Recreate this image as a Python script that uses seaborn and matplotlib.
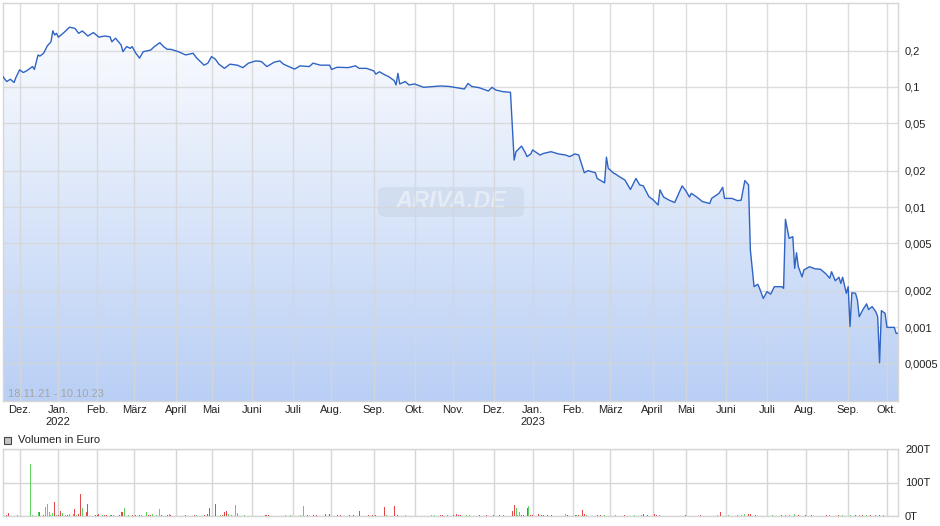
import numpy as np
import pandas as pd
import matplotlib
matplotlib.use("Agg")
import matplotlib.pyplot as plt
import seaborn as sns
from matplotlib.colors import LinearSegmentedColormap
from matplotlib.patches import FancyBboxPatch, Rectangle
from matplotlib.ticker import FixedLocator, FixedFormatter, NullLocator

# --- data --------------------------------------------------------------
holidays = ["2021-12-24", "2021-12-31", "2022-04-15", "2022-04-18",
            "2022-12-26", "2023-04-07", "2023-04-10", "2023-05-01"]

price_dates = [
    "2021-11-18", "2021-11-22", "2021-11-24", "2021-11-26", "2021-11-29",
    "2021-12-01", "2021-12-03", "2021-12-07", "2021-12-10", "2021-12-13",
    "2021-12-15", "2021-12-16", "2021-12-20", "2021-12-22", "2021-12-27",
    "2021-12-28", "2021-12-29", "2021-12-30", "2022-01-03", "2022-01-06",
    "2022-01-11", "2022-01-14", "2022-01-18", "2022-01-20", "2022-01-25",
    "2022-01-28", "2022-02-02", "2022-02-07", "2022-02-10", "2022-02-11",
    "2022-02-15", "2022-02-18", "2022-02-21", "2022-02-23", "2022-02-25",
    "2022-02-28", "2022-03-02", "2022-03-04", "2022-03-08", "2022-03-14",
    "2022-03-16", "2022-03-21", "2022-03-23", "2022-03-25", "2022-03-29",
    "2022-04-04", "2022-04-08", "2022-04-14", "2022-04-20", "2022-04-26",
    "2022-04-28", "2022-05-02", "2022-05-04", "2022-05-06", "2022-05-11",
    "2022-05-16", "2022-05-20", "2022-05-25", "2022-05-30", "2022-06-03",
    "2022-06-08", "2022-06-13", "2022-06-17", "2022-06-22", "2022-06-24",
    "2022-06-28", "2022-07-04", "2022-07-07", "2022-07-14", "2022-07-18",
    "2022-07-22", "2022-07-29", "2022-08-01", "2022-08-04", "2022-08-12",
    "2022-08-18", "2022-08-22", "2022-08-26", "2022-09-01", "2022-09-02",
    "2022-09-06", "2022-09-09", "2022-09-13", "2022-09-16", "2022-09-19",
    "2022-09-20", "2022-09-21", "2022-09-26", "2022-09-28", "2022-10-03",
    "2022-10-10", "2022-10-21", "2022-10-28", "2022-11-09", "2022-11-11",
    "2022-11-15", "2022-11-21", "2022-11-28", "2022-11-30", "2022-12-02",
    "2022-12-08", "2022-12-14", "2022-12-16", "2022-12-19", "2022-12-22",
    "2022-12-27", "2022-12-28", "2022-12-30", "2023-01-02", "2023-01-06",
    "2023-01-10", "2023-01-16", "2023-01-20", "2023-01-26", "2023-01-30",
    "2023-02-02", "2023-02-06", "2023-02-09", "2023-02-13", "2023-02-17",
    "2023-02-20", "2023-02-24", "2023-02-27", "2023-02-28", "2023-03-03",
    "2023-03-06", "2023-03-08", "2023-03-13", "2023-03-16", "2023-03-21",
    "2023-03-23", "2023-03-27", "2023-03-30", "2023-04-03", "2023-04-06",
    "2023-04-11", "2023-04-13", "2023-04-18", "2023-04-21", "2023-04-27",
    "2023-05-02", "2023-05-04", "2023-05-05", "2023-05-10", "2023-05-15",
    "2023-05-19", "2023-05-22", "2023-05-26", "2023-05-30", "2023-05-31",
    "2023-06-06", "2023-06-09", "2023-06-13", "2023-06-15", "2023-06-19",
    "2023-06-20", "2023-06-22", "2023-06-26", "2023-06-27", "2023-06-29",
    "2023-07-03", "2023-07-05", "2023-07-07", "2023-07-13", "2023-07-14",
    "2023-07-17", "2023-07-19", "2023-07-21", "2023-07-24", "2023-07-25",
    "2023-07-26", "2023-07-28", "2023-07-31", "2023-08-03", "2023-08-08",
    "2023-08-11", "2023-08-16", "2023-08-18", "2023-08-21", "2023-08-23",
    "2023-08-25", "2023-08-28", "2023-08-29", "2023-08-31", "2023-09-01",
    "2023-09-04", "2023-09-05", "2023-09-07", "2023-09-08", "2023-09-11",
    "2023-09-13", "2023-09-15", "2023-09-18", "2023-09-20", "2023-09-22",
    "2023-09-25", "2023-09-26", "2023-09-27", "2023-09-29", "2023-10-02",
    "2023-10-06", "2023-10-09", "2023-10-10",
]
price_values = [
    0.122, 0.111, 0.116, 0.109, 0.120,
    0.139, 0.132, 0.137, 0.148, 0.140,
    0.185, 0.181, 0.191, 0.220, 0.238,
    0.294, 0.271, 0.280, 0.260, 0.284,
    0.315, 0.308, 0.280, 0.293, 0.266,
    0.284, 0.260, 0.266, 0.262, 0.238,
    0.255, 0.224, 0.197, 0.217, 0.210,
    0.217, 0.191, 0.174, 0.197, 0.203,
    0.217, 0.234, 0.217, 0.206, 0.206,
    0.197, 0.185, 0.191, 0.174, 0.152,
    0.158, 0.179, 0.171, 0.155, 0.143,
    0.155, 0.152, 0.145, 0.158, 0.165,
    0.163, 0.148, 0.161, 0.165, 0.155,
    0.150, 0.141, 0.150, 0.148, 0.158,
    0.152, 0.152, 0.140, 0.146, 0.145,
    0.150, 0.143, 0.143, 0.136, 0.128,
    0.134, 0.126, 0.122, 0.113, 0.104,
    0.130, 0.106, 0.111, 0.104, 0.106,
    0.0994, 0.102, 0.101, 0.0962, 0.107,
    0.101, 0.0987, 0.0926, 0.0994, 0.0944,
    0.0914, 0.0903, 0.0246, 0.0289, 0.0322,
    0.0284, 0.0263, 0.0277, 0.0299, 0.0271,
    0.0280, 0.0289, 0.0277, 0.0271, 0.0263,
    0.0277, 0.0271, 0.0193, 0.0201, 0.0193,
    0.0173, 0.0159, 0.0260, 0.0210, 0.0191,
    0.0188, 0.0179, 0.0168, 0.0140, 0.0173,
    0.0153, 0.0150, 0.0122, 0.0116, 0.0104,
    0.0139, 0.0121, 0.0114, 0.0109, 0.0150,
    0.0137, 0.0121, 0.0130, 0.0121, 0.0111,
    0.0107, 0.0118, 0.0130, 0.0146, 0.0118,
    0.0118, 0.0113, 0.0114, 0.0166, 0.0153,
    0.00438, 0.00217, 0.00227, 0.00210, 0.00173,
    0.00197, 0.00188, 0.00217, 0.00217, 0.00210,
    0.0079, 0.00548, 0.00566, 0.00308, 0.00416,
    0.00318, 0.00262, 0.00299, 0.00318, 0.00306,
    0.00303, 0.00277, 0.00255, 0.00289, 0.00243,
    0.00260, 0.00231, 0.00260, 0.00191, 0.00217,
    0.00101, 0.00193, 0.00191, 0.00168, 0.00122,
    0.00140, 0.00156, 0.00140, 0.00148, 0.00134,
    0.00122, 0.000504, 0.00137, 0.00130, 0.000994,
    0.000994, 0.000886, 0.000886,
]

# volume in thousand euro, 1 = green (up), 0 = red (down)
vol_dates = [
    "2021-11-22", "2021-11-23", "2021-11-29", "2021-11-30", "2021-12-07",
    "2021-12-09", "2021-12-10", "2021-12-15", "2021-12-16", "2021-12-20",
    "2021-12-21", "2021-12-22", "2021-12-23", "2021-12-27", "2021-12-28",
    "2021-12-29", "2021-12-30", "2022-01-03", "2022-01-04", "2022-01-05",
    "2022-01-07", "2022-01-10", "2022-01-11", "2022-01-13", "2022-01-14",
    "2022-01-17", "2022-01-18", "2022-01-19", "2022-01-20", "2022-01-24",
    "2022-01-25", "2022-01-31", "2022-02-01", "2022-02-02", "2022-02-04",
    "2022-02-07", "2022-02-08", "2022-02-10", "2022-02-11", "2022-02-14",
    "2022-02-17", "2022-02-18", "2022-02-21", "2022-02-22", "2022-02-24",
    "2022-02-28", "2022-03-02", "2022-03-04", "2022-03-07", "2022-03-10",
    "2022-03-11", "2022-03-14", "2022-03-15", "2022-03-17", "2022-03-21",
    "2022-03-22", "2022-03-25", "2022-03-28", "2022-03-29", "2022-04-08",
    "2022-04-19", "2022-04-20", "2022-04-26", "2022-04-28", "2022-04-29",
    "2022-05-04", "2022-05-09", "2022-05-10", "2022-05-11", "2022-05-12",
    "2022-05-13", "2022-05-17", "2022-05-19", "2022-05-20", "2022-05-26",
    "2022-06-10", "2022-06-13", "2022-06-14", "2022-06-27", "2022-06-30",
    "2022-07-07", "2022-07-11", "2022-07-13", "2022-07-18", "2022-07-20",
    "2022-07-27", "2022-07-29", "2022-08-04", "2022-08-08", "2022-08-15",
    "2022-08-17", "2022-08-22", "2022-08-29", "2022-08-31", "2022-09-02",
    "2022-09-09", "2022-09-12", "2022-09-16", "2022-09-20", "2022-09-26",
    "2022-10-14", "2022-10-18", "2022-10-21", "2022-10-24", "2022-10-27",
    "2022-11-01", "2022-11-03", "2022-11-04", "2022-11-07", "2022-11-10",
    "2022-11-14", "2022-11-21", "2022-11-25", "2022-12-01", "2022-12-06",
    "2022-12-08", "2022-12-15", "2022-12-16", "2022-12-19", "2022-12-20",
    "2022-12-21", "2022-12-22", "2022-12-23", "2022-12-28", "2022-12-29",
    "2022-12-30", "2023-01-02", "2023-01-05", "2023-01-09", "2023-01-10",
    "2023-01-12", "2023-01-16", "2023-01-26", "2023-01-27", "2023-02-02",
    "2023-02-03", "2023-02-06", "2023-02-08", "2023-02-09", "2023-02-10",
    "2023-02-20", "2023-02-22", "2023-02-24", "2023-03-06", "2023-03-13",
    "2023-03-20", "2023-03-24", "2023-03-27", "2023-03-29", "2023-04-04",
    "2023-04-05", "2023-04-11", "2023-05-02", "2023-05-12", "2023-05-25",
    "2023-05-29", "2023-06-02", "2023-06-09", "2023-06-13", "2023-06-15",
    "2023-06-19", "2023-06-20", "2023-06-23", "2023-07-06", "2023-07-13",
    "2023-07-17", "2023-07-19", "2023-07-24", "2023-07-26", "2023-08-01",
    "2023-08-04", "2023-08-16", "2023-08-18", "2023-08-25", "2023-08-29",
    "2023-09-04", "2023-09-07", "2023-09-11", "2023-09-13", "2023-09-15",
    "2023-09-19", "2023-09-22", "2023-09-26", "2023-09-28",
]
vol_values = [
    2, 10, 1, 2, 1,
    155, 3, 12, 12, 4,
    27, 36, 12, 3, 8,
    42, 4, 4, 15, 8,
    3, 2, 7, 7, 21,
    3, 5, 66, 25, 12,
    36, 2, 2, 5, 3,
    3, 3, 2, 3, 2,
    3, 12, 12, 25, 3,
    2, 2, 2, 2, 12,
    4, 4, 5, 3, 22,
    2, 2, 5, 2, 2,
    2, 2, 3, 5, 25,
    36, 2, 2, 12, 15,
    5, 3, 33, 8, 2,
    3, 3, 2, 2, 3,
    2, 30, 2, 2, 3,
    7, 5, 2, 2, 3,
    2, 15, 3, 3, 2,
    27, 3, 30, 2, 2,
    2, 2, 2, 2, 3,
    2, 5, 2, 3, 3,
    2, 2, 2, 2, 2,
    2, 15, 33, 24, 3,
    12, 3, 3, 25, 30,
    4, 3, 5, 2, 2,
    2, 2, 7, 3, 2,
    3, 3, 18, 5, 4,
    2, 2, 2, 2, 2,
    2, 3, 5, 2, 5,
    3, 2, 2, 2, 2,
    12, 2, 2, 4, 5,
    7, 5, 2, 2, 3,
    2, 3, 7, 2, 2,
    2, 2, 2, 2, 3,
    3, 2, 2, 2, 3,
    2, 2, 2, 2,
]
vol_up = [
    0, 0, 1, 1, 0,
    1, 1, 1, 0, 0,
    1, 1, 1, 1, 1,
    0, 1, 0, 0, 1,
    1, 0, 1, 1, 0,
    1, 0, 0, 1, 0,
    0, 0, 0, 0, 1,
    0, 0, 1, 0, 1,
    0, 0, 0, 1, 1,
    0, 0, 0, 1, 1,
    0, 0, 1, 1, 1,
    0, 0, 1, 0, 0,
    0, 1, 0, 0, 0,
    0, 1, 0, 0, 0,
    1, 1, 1, 1, 1,
    0, 0, 0, 1, 1,
    1, 1, 0, 0, 0,
    0, 0, 0, 0, 0,
    0, 0, 0, 0, 0,
    0, 1, 0, 0, 1,
    1, 1, 0, 0, 1,
    0, 0, 0, 0, 1,
    1, 0, 0, 0, 0,
    1, 0, 0, 1, 1,
    1, 0, 0, 0, 1,
    0, 0, 0, 0, 0,
    0, 0, 1, 0, 0,
    1, 0, 0, 0, 1,
    0, 0, 1, 1, 0,
    1, 1, 0, 0, 0,
    0, 1, 0, 0, 1,
    0, 1, 1, 1, 1,
    0, 0, 0, 1, 0,
    1, 1, 1, 0, 0,
    0, 0, 1, 0, 1,
    1, 0, 1, 0, 1,
    0, 1, 0, 1,
]

price_ticks = [0.0005, 0.001, 0.002, 0.005, 0.01, 0.02, 0.05, 0.1, 0.2]
price_tick_labels = ["0,0005", "0,001", "0,002", "0,005", "0,01", "0,02",
                     "0,05", "0,1", "0,2"]
vol_ticks = [0, 100, 200]
vol_tick_labels = ["0T", "100T", "200T"]
month_names = {1: "Jan.", 2: "Feb.", 3: "März", 4: "April", 5: "Mai",
               6: "Juni", 7: "Juli", 8: "Aug.", 9: "Sep.", 10: "Okt.",
               11: "Nov.", 12: "Dez."}

# --- x axis: trading days ------------------------------------------------
trading_days = pd.bdate_range("2021-11-18", "2023-10-10", freq="C",
                              holidays=holidays)
price_x = trading_days.searchsorted(pd.to_datetime(price_dates))
vol_x = trading_days.searchsorted(pd.to_datetime(vol_dates))

s = pd.Series(np.arange(len(trading_days)), index=trading_days)
firsts = s.groupby(trading_days.to_period("M")).first().iloc[1:]
month_pos = list(firsts.values)
month_lab = []
for per in firsts.index:
    lab = month_names[per.month]
    if per.month == 1:
        lab = lab + "\n" + str(per.year)
    month_lab.append(lab)

# --- figure ----------------------------------------------------------------
sns.set_theme(style="white")
plt.rcParams["font.family"] = ["Liberation Sans", "DejaVu Sans"]

W, H = 940, 526
fig = plt.figure(figsize=(9.4, 5.26), dpi=100)
ax = fig.add_axes([3 / W, 1 - 401 / H, 895 / W, 398 / H])
ax2 = fig.add_axes([3 / W, 1 - 516 / H, 895 / W, 67 / H])

grid_c = "#d6d6d6"
text_c = "#222222"

ax.set_yscale("log")
sns.lineplot(x=price_x, y=price_values, ax=ax, color="#2f64c4", linewidth=1.0,
             estimator=None, sort=False, zorder=4)

# gradient fill under the line
poly = ax.fill_between(price_x, price_values, 1e-5, facecolor="none",
                       edgecolor="none")
cmap = LinearSegmentedColormap.from_list("fill", ["#ffffff", "#b9cff5"])
grad = np.linspace(0, 1, 256).reshape(-1, 1)
im = ax.imshow(grad, extent=[0, 1, 0, 1], transform=ax.transAxes,
               aspect="auto", cmap=cmap, zorder=1, origin="upper")
im.set_clip_path(poly.get_paths()[0], ax.transData)

ax.set_xlim(0, len(trading_days) - 1)
ax.set_ylim(0.000242, 0.501)

ax.yaxis.tick_right()
ax.yaxis.set_major_locator(FixedLocator(price_ticks))
ax.yaxis.set_major_formatter(FixedFormatter(price_tick_labels))
ax.yaxis.set_minor_locator(NullLocator())
ax.set_xticks(month_pos)
ax.set_xticklabels(month_lab)
ax.tick_params(axis="both", length=0, labelsize=8, colors=text_c)
ax.tick_params(axis="x", pad=3)
ax.tick_params(axis="y", pad=5)
ax.set_axisbelow(False)
ax.grid(True, color=grid_c, linewidth=1, alpha=0.85)
ax.set_xlabel("")
ax.set_ylabel("")
for sp in ax.spines.values():
    sp.set_color(grid_c)
    sp.set_linewidth(1)

ax.text(5 / 895, 7 / 398, "18.11.21 - 10.10.23", transform=ax.transAxes,
        fontsize=8, color="#a5a5a5", va="center", ha="left", zorder=5)

# watermark
wx0, wx1 = (378 - 3) / 895, (524 - 3) / 895
wy0, wy1 = (401 - 217) / 398, (401 - 187) / 398
ax.add_patch(FancyBboxPatch((wx0, wy0), wx1 - wx0, wy1 - wy0,
                            boxstyle="round,pad=0,rounding_size=0.012",
                            transform=ax.transAxes, facecolor="#b9c6da",
                            edgecolor="none", alpha=0.3, zorder=2))
ax.text((wx0 + wx1) / 2, (wy0 + wy1) / 2, "ARIVA.DE", transform=ax.transAxes,
        fontsize=17, fontstyle="italic", fontweight="bold", color="white",
        alpha=0.45, ha="center", va="center", zorder=2)

# --- volume panel --------------------------------------------------------
colors = ["#5fd35f" if u else "#e2474c" for u in vol_up]
ax2.bar(vol_x, vol_values, width=0.55, color=colors, linewidth=0, zorder=3)
ax2.set_xlim(0, len(trading_days) - 1)
ax2.set_ylim(0, 200)
ax2.yaxis.tick_right()
ax2.set_yticks(vol_ticks)
ax2.set_yticklabels(vol_tick_labels)
ax2.set_xticks(month_pos)
ax2.set_xticklabels([])
ax2.tick_params(axis="both", length=0, labelsize=8, colors=text_c)
ax2.tick_params(axis="y", pad=5)
ax2.grid(True, color=grid_c, linewidth=1)
ax2.set_axisbelow(True)
for sp in ax2.spines.values():
    sp.set_color(grid_c)
    sp.set_linewidth(1)

fig.patches.append(Rectangle((4 / W, 1 - 444 / H), 7 / W, 7 / H,
                             transform=fig.transFigure, facecolor="#c4c4c4",
                             edgecolor="#444444", linewidth=0.8))
fig.text(18 / W, 1 - 440 / H, "Volumen in Euro", fontsize=8, color=text_c,
         va="center", ha="left")

fig.savefig("out.png", dpi=100)
